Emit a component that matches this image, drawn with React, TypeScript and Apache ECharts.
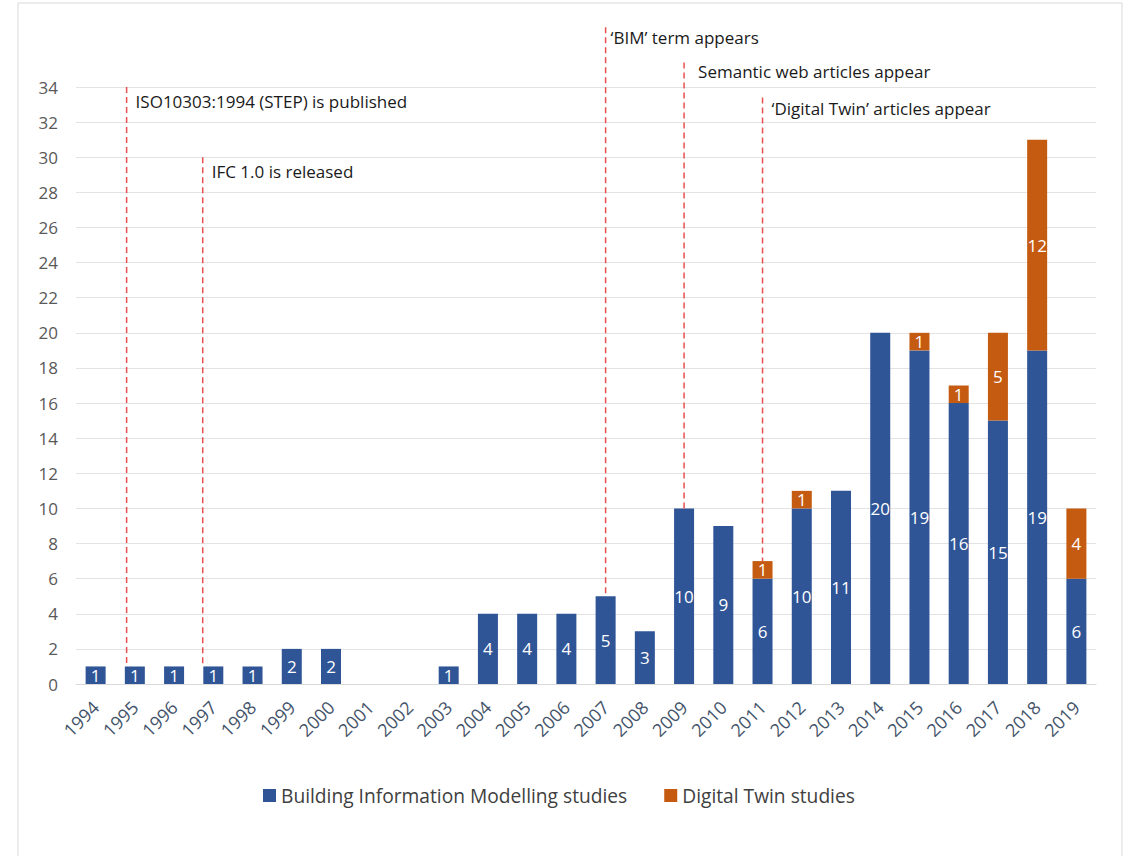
import React, { useEffect, useRef } from "react";
import * as echarts from "echarts";

const years = ["1994","1995","1996","1997","1998","1999","2000","2001","2002","2003","2004","2005","2006","2007","2008","2009","2010","2011","2012","2013","2014","2015","2016","2017","2018","2019"];
const bimStudies = [1,1,1,1,1,2,2,0,0,1,4,4,4,5,3,10,9,6,10,11,20,19,16,15,19,6];
const dtStudies = [0,0,0,0,0,0,0,0,0,0,0,0,0,0,0,0,0,1,1,0,0,1,1,5,12,4];
const yTicks = { min: 0, max: 34, interval: 2 };

// annotation events: category, offset in category units, line top value, text value, text x offset px
const eventYears = ["1995", "1997", "2007", "2009", "2011"];
const eventOffsets = [-0.21, -0.27, 0, 0, 0];
const eventTops = [34, 30, 37.4, 35.4, 33.4];
const eventTextValues = [33.2, 29.2, 36.8, 34.9, 32.8];
const eventTextDx = [9, 9, 5, 14, 9];
const eventTexts = [
  "ISO10303:1994 (STEP) is published",
  "IFC 1.0 is released",
  "\u2018BIM\u2019 term appears",
  "Semantic web articles appear",
  "\u2018Digital Twin\u2019 articles appear",
];

const BLUE = "#2f5597";
const ORANGE = "#c55a11";
const FONT = "'Open Sans', 'Noto Sans', sans-serif";

export default function App() {
  const ref = useRef<HTMLDivElement>(null);
  useEffect(() => {
    if (!ref.current) return;
    const chart = echarts.init(ref.current, null, { renderer: "svg" });
    const labelFmt = (p: any) => (p.value ? String(p.value) : "");
    chart.setOption({
      animation: false,
      backgroundColor: "#ffffff",
      textStyle: { fontFamily: FONT },
      grid: { left: 76, right: 42, top: 87, bottom: 172, containLabel: false },
      legend: {
        top: 781,
        left: 258,
        itemWidth: 13,
        itemHeight: 13,
        itemGap: 37,
        icon: "rect",
        textStyle: { fontSize: 19.2, color: "#404040", fontFamily: FONT },
        data: ["Building Information Modelling studies", "Digital Twin studies"],
      },
      xAxis: {
        type: "category",
        data: years,
        axisLine: { lineStyle: { color: "#d9d9d9" } },
        axisTick: { show: false },
        axisLabel: { rotate: 45, fontSize: 18, color: "#44546a", margin: 20, fontFamily: FONT },
      },
      yAxis: {
        type: "value",
        min: yTicks.min,
        max: yTicks.max,
        interval: yTicks.interval,
        axisLine: { show: false },
        axisTick: { show: false },
        axisLabel: { fontSize: 17, color: "#595959", margin: 18, fontFamily: FONT },
        splitLine: { lineStyle: { color: "#e3e3e3", width: 1 } },
      },
      series: [
        {
          name: "Building Information Modelling studies",
          type: "bar",
          stack: "s",
          barWidth: 20,
          data: bimStudies.map((v) => (v ? v : null)),
          itemStyle: { color: BLUE },
          label: { show: true, position: "inside", color: "#ffffff", fontSize: 17, formatter: labelFmt, fontFamily: FONT },
        },
        {
          name: "Digital Twin studies",
          type: "bar",
          stack: "s",
          barWidth: 20,
          data: dtStudies.map((v) => (v ? v : null)),
          itemStyle: { color: ORANGE },
          label: { show: true, position: "inside", color: "#ffffff", fontSize: 17, formatter: labelFmt, fontFamily: FONT },
        },
      ],
    });

    const graphics: any[] = [
      {
        type: "rect",
        shape: { x: 18, y: 3, width: 1104, height: 870 },
        style: { fill: "none", stroke: "#d9d9d9", lineWidth: 1 },
        silent: true,
      },
    ];
    const c0 = chart.convertToPixel({ xAxisIndex: 0 }, years[0]) as number;
    const c1 = chart.convertToPixel({ xAxisIndex: 0 }, years[1]) as number;
    const band = c1 - c0;
    eventYears.forEach((yr, i) => {
      const idx = years.indexOf(yr);
      const cx = (chart.convertToPixel({ xAxisIndex: 0 }, yr) as number) + eventOffsets[i] * band;
      const barTop = bimStudies[idx] + dtStudies[idx];
      const yBottom = chart.convertToPixel({ yAxisIndex: 0 }, barTop) as number;
      const yTop = chart.convertToPixel({ yAxisIndex: 0 }, eventTops[i]) as number;
      const yText = chart.convertToPixel({ yAxisIndex: 0 }, eventTextValues[i]) as number;
      graphics.push({
        type: "line",
        shape: { x1: cx, y1: yTop, x2: cx, y2: yBottom },
        style: { stroke: "#e8504f", lineWidth: 1.5, lineDash: [6, 4] },
        silent: true,
        z: 10,
      });
      graphics.push({
        type: "text",
        x: cx + eventTextDx[i],
        y: yText,
        style: {
          text: eventTexts[i],
          fill: "#1a1a1a",
          fontSize: 17,
          fontFamily: FONT,
          textVerticalAlign: "middle",
          verticalAlign: "middle",
        },
        silent: true,
        z: 10,
      });
    });
    chart.setOption({ graphic: graphics });

    return () => chart.dispose();
  }, []);
  return (
    <div
      ref={ref}
      style={{ position: "fixed", left: 0, top: 0, width: 1138, height: 856 }}
    />
  );
}
